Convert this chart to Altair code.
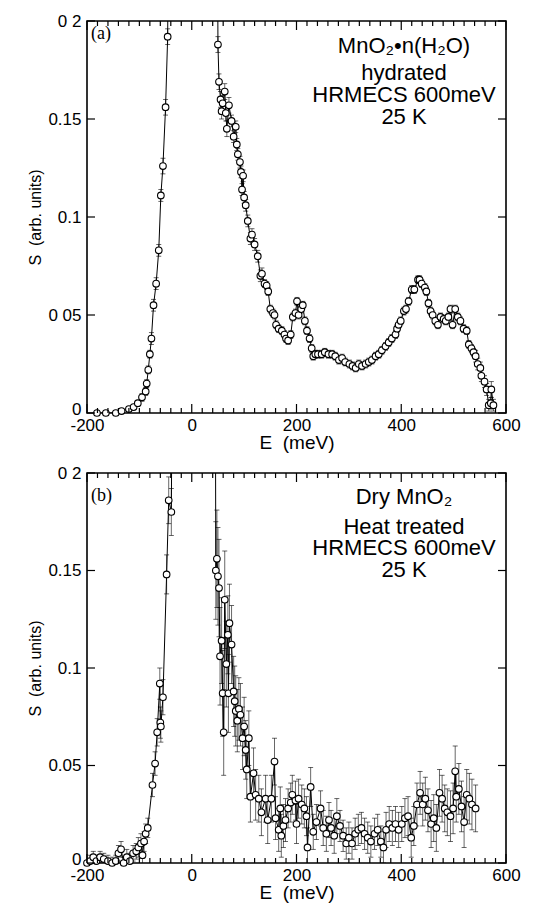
import altair as alt
import pandas as pd

# ---------------- Panel (a): hydrated MnO2 ----------------
a_E = [-181, -164, -145, -134, -120, -111, -103, -95, -88, -86, -83, -80, -77, -73, -68, -63, -59, -55, -50, -46,
       -42, 48,
       50, 52, 55, 57, 59, 63, 65, 67, 71, 76, 80, 84, 86, 88, 92, 94, 96, 98, 100,
       103, 107, 112, 115, 120, 126, 131, 134, 139, 143, 146, 150, 155, 158, 161, 166, 172, 177, 180, 184,
       189, 193, 198, 201, 204, 209, 212, 216, 220, 225, 229, 232, 236, 241, 248, 254, 261, 268, 274, 281,
       287, 293, 301, 307, 313, 319, 325, 332, 338, 344, 351, 357, 363, 370, 376, 382, 389, 392, 395, 399,
       405, 409, 414, 420, 425, 432, 435, 439, 445, 448, 452, 456, 460, 465, 470, 475, 481, 485, 490, 494,
       498, 503, 508, 513, 519, 525, 529, 534, 538, 542, 546, 551, 553, 559, 563, 567, 571, 572, 576]
a_S = [0.000, 0.000, 0.000, 0.001, 0.002, 0.003, 0.005, 0.008, 0.011, 0.015, 0.022, 0.030, 0.038, 0.055, 0.066, 0.083, 0.111, 0.126, 0.156, 0.192,
       0.35, 0.35,
       0.188, 0.169, 0.160, 0.154, 0.158, 0.164, 0.153, 0.145, 0.157, 0.149, 0.141, 0.146, 0.137, 0.132, 0.128, 0.123, 0.114, 0.121, 0.110,
       0.106, 0.098, 0.089, 0.091, 0.086, 0.080, 0.070, 0.071, 0.066, 0.065, 0.062, 0.053, 0.051, 0.050, 0.045, 0.043, 0.042, 0.040, 0.038, 0.037,
       0.040, 0.049, 0.051, 0.057, 0.050, 0.053, 0.055, 0.047, 0.042, 0.038, 0.033, 0.029, 0.030, 0.030, 0.030, 0.031, 0.030, 0.030, 0.029, 0.027,
       0.028, 0.026, 0.025, 0.024, 0.023, 0.025, 0.024, 0.025, 0.026, 0.027, 0.029, 0.030, 0.032, 0.034, 0.036, 0.038, 0.040, 0.043, 0.045, 0.047,
       0.052, 0.053, 0.057, 0.063, 0.063, 0.068, 0.068, 0.066, 0.064, 0.062, 0.056, 0.052, 0.050, 0.047, 0.045, 0.049, 0.048, 0.047, 0.049, 0.053,
       0.045, 0.053, 0.049, 0.047, 0.043, 0.042, 0.035, 0.033, 0.031, 0.029, 0.025, 0.023, 0.019, 0.016, 0.012, 0.004, 0.005, 0.012, 0.004]
a_err = [0.001, 0.001, 0.001, 0.001, 0.001, 0.001, 0.001, 0.002, 0.002, 0.002, 0.002, 0.002, 0.003, 0.003, 0.003, 0.003, 0.003, 0.004, 0.004, 0.004,
         0.0, 0.0,
         0.004, 0.004, 0.004, 0.004, 0.004, 0.004, 0.004, 0.004, 0.004, 0.003, 0.003, 0.003, 0.003, 0.003, 0.003, 0.003, 0.003, 0.003, 0.003,
         0.003, 0.003, 0.003, 0.003, 0.003, 0.003, 0.003, 0.003, 0.002, 0.002, 0.002, 0.002, 0.002, 0.002, 0.002, 0.002, 0.002, 0.002, 0.002, 0.002,
         0.002, 0.002, 0.002, 0.002, 0.002, 0.002, 0.002, 0.002, 0.002, 0.002, 0.002, 0.002, 0.002, 0.002, 0.002, 0.002, 0.002, 0.002, 0.002, 0.002,
         0.002, 0.002, 0.002, 0.002, 0.002, 0.002, 0.002, 0.002, 0.002, 0.002, 0.002, 0.002, 0.002, 0.002, 0.002, 0.002, 0.002, 0.002, 0.002, 0.002,
         0.002, 0.002, 0.002, 0.002, 0.002, 0.002, 0.002, 0.002, 0.002, 0.002, 0.002, 0.002, 0.002, 0.002, 0.002, 0.002, 0.002, 0.002, 0.002, 0.002,
         0.002, 0.002, 0.002, 0.002, 0.002, 0.002, 0.002, 0.002, 0.002, 0.003, 0.003, 0.003, 0.003, 0.003, 0.003, 0.003, 0.003, 0.004, 0.003]

# ---------------- Panel (b): dry, heat treated MnO2 ----------------
b_E = [-200, -194, -188, -182, -175, -168, -160, -152, -145, -140, -135, -130, -124, -118, -112, -106, -102, -97, -94, -91,
       -88, -84, -75, -70, -66, -61, -60, -59, -55, -48, -44, -39,
       -35, 44,
       46, 48, 50, 52, 54, 57, 59, 61, 63, 66, 69, 70, 72, 76, 80, 82, 84, 87, 90, 93,
       97, 100, 103, 105, 109, 112, 118, 122, 128, 133, 141, 145, 152, 158, 160, 166, 169, 171, 175, 179,
       184, 189, 192, 198, 200, 204, 210, 215, 219, 221, 227, 232, 238, 246, 251, 257, 262, 266, 272, 277,
       283, 289, 295, 300, 306, 312, 318, 324, 330, 336, 342, 349, 355, 361, 366, 371, 377, 383, 389, 395,
       401, 407, 413, 419, 424, 430, 436, 441, 446, 451, 457, 462, 467, 473, 478, 483, 488, 494, 499, 503,
       505, 510, 515, 520, 525, 530, 535, 542]
b_S = [0.000, 0.001, 0.003, 0.001, 0.003, 0.002, 0.001, 0.000, 0.001, 0.005, 0.007, 0.000, 0.003, 0.001, 0.005, 0.006, 0.008, 0.010, 0.004, 0.011,
       0.015, 0.018, 0.040, 0.051, 0.067, 0.092, 0.072, 0.070, 0.085, 0.148, 0.186, 0.180,
       0.35, 0.35,
       0.150, 0.156, 0.147, 0.141, 0.106, 0.114, 0.087, 0.067, 0.135, 0.102, 0.117, 0.087, 0.123, 0.112, 0.088, 0.083, 0.078, 0.073, 0.079, 0.076,
       0.064, 0.070, 0.058, 0.048, 0.064, 0.034, 0.046, 0.035, 0.033, 0.026, 0.033, 0.022, 0.033, 0.052, 0.023, 0.017, 0.028, 0.014, 0.019, 0.022,
       0.028, 0.031, 0.035, 0.032, 0.020, 0.033, 0.030, 0.028, 0.024, 0.008, 0.039, 0.016, 0.021, 0.028, 0.018, 0.015, 0.022, 0.018, 0.014, 0.024,
       0.019, 0.014, 0.010, 0.013, 0.010, 0.015, 0.017, 0.018, 0.015, 0.013, 0.011, 0.015, 0.017, 0.011, 0.008, 0.017, 0.020, 0.018, 0.020, 0.017,
       0.020, 0.023, 0.024, 0.013, 0.019, 0.030, 0.036, 0.030, 0.033, 0.027, 0.020, 0.023, 0.018, 0.036, 0.033, 0.028, 0.026, 0.024, 0.028, 0.047,
       0.034, 0.038, 0.029, 0.021, 0.035, 0.033, 0.030, 0.028]
b_err = [0.002, 0.003, 0.003, 0.003, 0.003, 0.003, 0.003, 0.003, 0.003, 0.004, 0.004, 0.003, 0.004, 0.004, 0.004, 0.004, 0.005, 0.005, 0.005, 0.005,
         0.005, 0.005, 0.006, 0.006, 0.007, 0.008, 0.008, 0.008, 0.009, 0.010, 0.012, 0.012,
         0.0, 0.0,
         0.025, 0.025, 0.025, 0.025, 0.025, 0.022, 0.022, 0.022, 0.025, 0.022, 0.020, 0.020, 0.020, 0.020, 0.018, 0.018, 0.018, 0.016, 0.016, 0.016,
         0.016, 0.015, 0.015, 0.015, 0.014, 0.013, 0.013, 0.013, 0.012, 0.012, 0.012, 0.012, 0.012, 0.012, 0.011, 0.011, 0.011, 0.011, 0.011, 0.011,
         0.010, 0.010, 0.010, 0.010, 0.010, 0.010, 0.010, 0.010, 0.010, 0.010, 0.010, 0.009, 0.009, 0.009, 0.009, 0.009, 0.009, 0.009, 0.009, 0.009,
         0.008, 0.008, 0.008, 0.008, 0.008, 0.008, 0.008, 0.008, 0.008, 0.008, 0.008, 0.008, 0.008, 0.008, 0.008, 0.009, 0.009, 0.009, 0.009, 0.009,
         0.009, 0.010, 0.010, 0.010, 0.010, 0.011, 0.011, 0.011, 0.011, 0.011, 0.012, 0.012, 0.012, 0.012, 0.012, 0.012, 0.012, 0.013, 0.013, 0.013,
         0.013, 0.013, 0.013, 0.013, 0.013, 0.013, 0.013, 0.012]

# axis tick values
X_MAJOR = [-200, 0, 200, 400, 600]
X_MINOR = [v for v in range(-200, 601, 20) if v % 200 != 0]
Y_MAJOR = [0, 0.05, 0.1, 0.15, 0.2]

W = 419
FONT = "Liberation Sans"
NB = "\u00a0"


def panel(E, S, err, tag, tag_y, lines, line_ys, H, y_label_expr):
    df = pd.DataFrame({"E": E, "S": S, "err": err})
    df["lo"] = df["S"] - df["err"]
    df["hi"] = df["S"] + df["err"]

    xs = alt.Scale(domain=[-200, 600], nice=False, zero=False)
    ys = alt.Scale(domain=[0, 0.2], nice=False, zero=False)
    xaxis = alt.Axis(values=X_MAJOR, title="E" + NB + NB + "(meV)", ticks=False, domain=False, grid=False,
                     labelFlush=False, labelPadding=4, titlePadding=0, labelOverlap=False,
                     labelExpr="toString(datum.value)")
    yaxis = alt.Axis(values=Y_MAJOR, title="S" + NB + NB + "(arb. units)", ticks=False, domain=False, grid=False,
                     labelPadding=6, labelExpr=y_label_expr, labelOverlap=False,
                     labelOffset=alt.condition(alt.datum.value == 0, alt.value(-4), alt.value(0)),
                     titleX=-47, titleY=H / 2, titleBaseline="alphabetic")

    def X(f):
        return alt.X(f, type="quantitative", scale=xs, axis=xaxis)

    def Y(f):
        return alt.Y(f, type="quantitative", scale=ys, axis=yaxis)

    base = alt.Chart(df)
    bars = base.mark_rule(color="black", strokeWidth=0.8, opacity=0.75, clip=True).encode(
        x=X("E"), y=Y("lo"), y2="hi")
    cap_lo = base.mark_tick(color="black", thickness=0.8, size=5, orient="horizontal", opacity=0.75, clip=True).encode(
        x=X("E"), y=Y("lo"))
    cap_hi = base.mark_tick(color="black", thickness=0.8, size=5, orient="horizontal", opacity=0.75, clip=True).encode(
        x=X("E"), y=Y("hi"))
    line = base.mark_line(color="black", strokeWidth=1.0, clip=True).encode(
        x=X("E"), y=Y("S"), order="E:Q")
    pts = base.transform_filter(alt.datum.S <= 0.2).mark_point(
        shape="circle", filled=True, fill="white", stroke="black", strokeWidth=1.1,
        size=44, opacity=1).encode(x=X("E"), y=Y("S"))

    xmin = alt.Chart(pd.DataFrame({"t": X_MINOR}))
    xmaj = alt.Chart(pd.DataFrame({"t": X_MAJOR}))
    ymaj = alt.Chart(pd.DataFrame({"t": Y_MAJOR}))
    tk = dict(color="black", strokeWidth=1.2)
    ticks = [
        xmin.mark_rule(**tk).encode(x=X("t"), y=alt.value(H), y2=alt.value(H - 5)),
        xmin.mark_rule(**tk).encode(x=X("t"), y=alt.value(0), y2=alt.value(5)),
        xmaj.mark_rule(**tk).encode(x=X("t"), y=alt.value(H), y2=alt.value(H - 9)),
        xmaj.mark_rule(**tk).encode(x=X("t"), y=alt.value(0), y2=alt.value(9)),
        ymaj.mark_rule(**tk).encode(y=Y("t"), x=alt.value(0), x2=alt.value(8)),
        ymaj.mark_rule(**tk).encode(y=Y("t"), x=alt.value(W), x2=alt.value(W - 8)),
    ]

    texts = [alt.Chart(pd.DataFrame({"s": [tag]})).mark_text(
        font="Liberation Serif", fontSize=18, align="left", baseline="alphabetic", color="black").encode(
        text="s:N", x=alt.value(4), y=alt.value(tag_y))]
    for s, yy in zip(lines, line_ys):
        texts.append(alt.Chart(pd.DataFrame({"s": [s]})).mark_text(
            font=FONT, fontSize=22, align="center", baseline="alphabetic", color="black").encode(
            text="s:N", x=alt.value(317), y=alt.value(yy)))

    return alt.layer(bars, cap_lo, cap_hi, line, pts, *ticks, *texts).properties(width=W, height=H)


label_a = ("datum.value == 0.2 ? '0 2' : datum.value == 0.05 ? '0 05' : format(datum.value, '~g')")
label_b = ("datum.value == 0.2 ? '0 2' : format(datum.value, '~g')")

pa = panel(a_E, a_S, a_err, "(a)", 18,
           ["MnO\u2082\u2022n(H\u2082O)", "hydrated", "HRMECS 600meV", "25 K"],
           [32, 59, 81, 103], 392, label_a)
pb = panel(b_E, b_S, b_err, "(b)", 28,
           ["Dry MnO\u2082", "Heat treated", "HRMECS 600meV", "25 K"],
           [31, 61, 82, 104], 390, label_b)

chart = alt.vconcat(pa, pb, spacing=10).properties(
    padding={"left": 18, "top": 3, "right": 5, "bottom": 0}
).configure_view(
    stroke="black", strokeWidth=1.6
).configure_axis(
    labelFont=FONT, labelFontSize=17, labelColor="black",
    titleFont=FONT, titleColor="black", titleFontWeight="normal"
).configure_axisX(
    titleFontSize=19
).configure_axisY(
    titleFontSize=16
)

chart.save("out.html", embed_options={"renderer": "svg", "actions": False})
